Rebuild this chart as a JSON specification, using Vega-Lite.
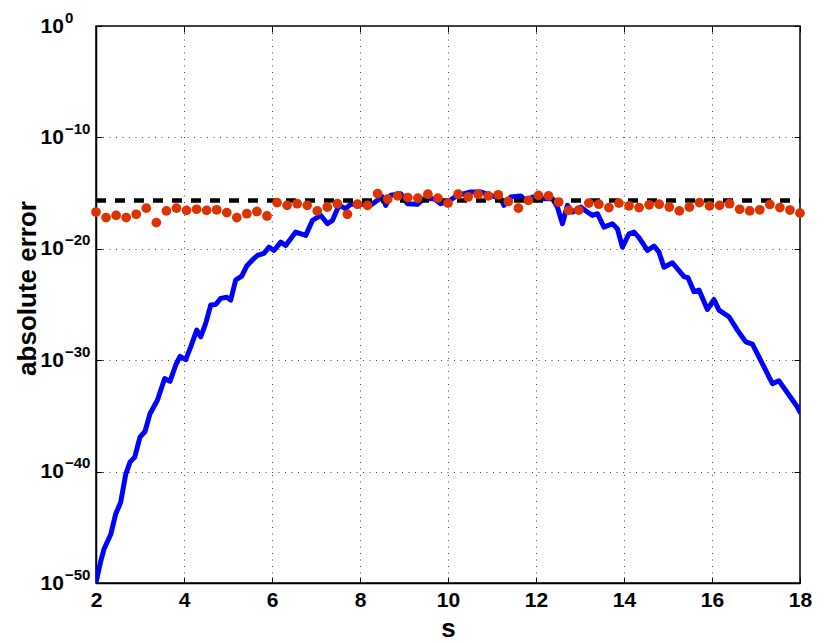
{
  "$schema": "https://vega.github.io/schema/vega-lite/v6.json",
  "width": 704,
  "height": 557,
  "autosize": "none",
  "padding": {"left": 96, "top": 26, "right": 30, "bottom": 60},
  "background": "white",
  "config": {
    "font": "Liberation Sans",
    "view": {"stroke": "black", "strokeWidth": 1.5}
  },
  "datasets": {
    "blue": [
      {"s": 2.0, "err": 1.12e-50}, {"s": 2.107, "err": 8.91e-49}, {"s": 2.182, "err": 1.12e-47}, {"s": 2.334, "err": 2.24e-46},
      {"s": 2.448, "err": 1.58e-44}, {"s": 2.561, "err": 1.78e-43}, {"s": 2.675, "err": 5.62e-41}, {"s": 2.773, "err": 7.08e-40},
      {"s": 2.88, "err": 2.0e-39}, {"s": 3.0, "err": 1.26e-37}, {"s": 3.114, "err": 3.98e-37}, {"s": 3.227, "err": 1.58e-35},
      {"s": 3.395, "err": 2.51e-34}, {"s": 3.561, "err": 2.24e-32}, {"s": 3.682, "err": 1.26e-32}, {"s": 3.811, "err": 3.55e-31},
      {"s": 3.909, "err": 2.24e-30}, {"s": 4.039, "err": 1.12e-30}, {"s": 4.152, "err": 1.58e-29}, {"s": 4.289, "err": 5.01e-28},
      {"s": 4.38, "err": 1.26e-28}, {"s": 4.493, "err": 2.0e-27}, {"s": 4.607, "err": 8.91e-26}, {"s": 4.72, "err": 1.0e-25},
      {"s": 4.834, "err": 3.55e-25}, {"s": 4.97, "err": 4.47e-25}, {"s": 5.061, "err": 2.51e-25}, {"s": 5.175, "err": 1.58e-23},
      {"s": 5.311, "err": 3.55e-23}, {"s": 5.425, "err": 2.82e-22}, {"s": 5.555, "err": 1.0e-21}, {"s": 5.668, "err": 2.51e-21},
      {"s": 5.818, "err": 3.98e-21}, {"s": 5.932, "err": 1.41e-20}, {"s": 6.045, "err": 7.08e-21}, {"s": 6.198, "err": 3.98e-20},
      {"s": 6.311, "err": 2.0e-20}, {"s": 6.539, "err": 3.16e-19}, {"s": 6.766, "err": 1.58e-19}, {"s": 6.918, "err": 3.55e-18},
      {"s": 7.107, "err": 1.0e-17}, {"s": 7.259, "err": 1.78e-18}, {"s": 7.373, "err": 3.55e-18}, {"s": 7.523, "err": 7.94e-17},
      {"s": 7.675, "err": 3.98e-17}, {"s": 7.789, "err": 1.0e-16}, {"s": 8.055, "err": 1.0e-16}, {"s": 8.243, "err": 7.94e-17},
      {"s": 8.395, "err": 2.24e-16}, {"s": 8.509, "err": 4.47e-16}, {"s": 8.584, "err": 7.94e-17}, {"s": 8.698, "err": 6.31e-16},
      {"s": 8.925, "err": 8.91e-16}, {"s": 9.077, "err": 1.12e-16}, {"s": 9.305, "err": 1.0e-16}, {"s": 9.455, "err": 3.16e-16},
      {"s": 9.682, "err": 3.16e-16}, {"s": 9.834, "err": 1.12e-16}, {"s": 9.986, "err": 1.58e-16}, {"s": 10.214, "err": 6.31e-16},
      {"s": 10.516, "err": 1.26e-15}, {"s": 10.743, "err": 1.26e-15}, {"s": 10.97, "err": 6.31e-16}, {"s": 11.198, "err": 3.16e-16},
      {"s": 11.273, "err": 7.94e-17}, {"s": 11.425, "err": 4.47e-16}, {"s": 11.652, "err": 5.62e-16}, {"s": 11.805, "err": 1.58e-16},
      {"s": 11.918, "err": 4.47e-16}, {"s": 12.145, "err": 3.16e-16}, {"s": 12.373, "err": 3.16e-16}, {"s": 12.486, "err": 5.62e-17},
      {"s": 12.6, "err": 1.78e-18}, {"s": 12.714, "err": 7.94e-17}, {"s": 12.827, "err": 2.0e-17}, {"s": 13.016, "err": 5.62e-17},
      {"s": 13.168, "err": 2.0e-17}, {"s": 13.282, "err": 1.0e-17}, {"s": 13.395, "err": 1.41e-17}, {"s": 13.545, "err": 8.91e-19},
      {"s": 13.736, "err": 1.78e-18}, {"s": 13.85, "err": 6.31e-19}, {"s": 13.964, "err": 1.41e-20}, {"s": 14.114, "err": 2.24e-19},
      {"s": 14.227, "err": 3.16e-19}, {"s": 14.341, "err": 1.0e-19}, {"s": 14.532, "err": 7.08e-21}, {"s": 14.682, "err": 1.78e-20},
      {"s": 14.795, "err": 5.01e-21}, {"s": 14.909, "err": 2.24e-22}, {"s": 15.1, "err": 5.62e-22}, {"s": 15.364, "err": 3.16e-23},
      {"s": 15.455, "err": 2.51e-23}, {"s": 15.591, "err": 1.41e-24}, {"s": 15.705, "err": 2.0e-24}, {"s": 15.895, "err": 3.55e-26},
      {"s": 16.045, "err": 2.82e-25}, {"s": 16.159, "err": 3.16e-26}, {"s": 16.386, "err": 7.94e-27}, {"s": 16.577, "err": 5.01e-28},
      {"s": 16.766, "err": 4.47e-29}, {"s": 16.918, "err": 2.82e-29}, {"s": 17.182, "err": 2.51e-31}, {"s": 17.373, "err": 7.94e-33},
      {"s": 17.523, "err": 1.41e-32}, {"s": 17.941, "err": 6.31e-35}, {"s": 18.0, "err": 2.24e-35}
    ],
    "eps": [
      {"s": 2, "err": 2.22e-16}, {"s": 18, "err": 2.22e-16}
    ],
    "red": [
      {"s": 2.0, "err": 2.0e-17}, {"s": 2.2286, "err": 6.31e-18}, {"s": 2.4571, "err": 1.0e-17}, {"s": 2.6857, "err": 6.31e-18},
      {"s": 2.9143, "err": 1.26e-17}, {"s": 3.1429, "err": 4.47e-17}, {"s": 3.3714, "err": 2.24e-18}, {"s": 3.6, "err": 2.51e-17},
      {"s": 3.8286, "err": 4.47e-17}, {"s": 4.0571, "err": 2.82e-17}, {"s": 4.2857, "err": 3.55e-17}, {"s": 4.5143, "err": 2.82e-17},
      {"s": 4.7429, "err": 3.16e-17}, {"s": 4.9714, "err": 1.78e-17}, {"s": 5.2, "err": 6.31e-18}, {"s": 5.4286, "err": 1.41e-17},
      {"s": 5.6571, "err": 2.24e-17}, {"s": 5.8857, "err": 8.91e-18}, {"s": 6.1143, "err": 1.41e-16}, {"s": 6.3429, "err": 7.94e-17},
      {"s": 6.5714, "err": 1.12e-16}, {"s": 6.8, "err": 7.94e-17}, {"s": 7.0286, "err": 2.51e-17}, {"s": 7.2571, "err": 5.62e-17},
      {"s": 7.4857, "err": 1.12e-16}, {"s": 7.7143, "err": 1.26e-17}, {"s": 7.9429, "err": 1.0e-16}, {"s": 8.1714, "err": 7.94e-17},
      {"s": 8.4, "err": 8.91e-16}, {"s": 8.6286, "err": 2.82e-16}, {"s": 8.8571, "err": 5.62e-16}, {"s": 9.0857, "err": 3.98e-16},
      {"s": 9.3143, "err": 3.55e-16}, {"s": 9.5429, "err": 7.94e-16}, {"s": 9.7714, "err": 3.55e-16}, {"s": 10.0, "err": 1.26e-16},
      {"s": 10.2286, "err": 7.94e-16}, {"s": 10.4571, "err": 4.47e-16}, {"s": 10.6857, "err": 7.94e-16}, {"s": 10.9143, "err": 5.62e-16},
      {"s": 11.1429, "err": 7.08e-16}, {"s": 11.3714, "err": 1.78e-16}, {"s": 11.6, "err": 4.47e-17}, {"s": 11.8286, "err": 2.24e-16},
      {"s": 12.0571, "err": 6.31e-16}, {"s": 12.2857, "err": 5.62e-16}, {"s": 12.5143, "err": 1.58e-16}, {"s": 12.7429, "err": 2.82e-17},
      {"s": 12.9714, "err": 3.0e-17}, {"s": 13.2, "err": 1.26e-16}, {"s": 13.4286, "err": 1.0e-16}, {"s": 13.6571, "err": 5.01e-17},
      {"s": 13.8857, "err": 1.26e-16}, {"s": 14.1143, "err": 7.08e-17}, {"s": 14.3429, "err": 5.01e-17}, {"s": 14.5714, "err": 8.91e-17},
      {"s": 14.8, "err": 1.0e-16}, {"s": 15.0286, "err": 5.62e-17}, {"s": 15.2571, "err": 2.51e-17}, {"s": 15.4857, "err": 5.62e-17},
      {"s": 15.7143, "err": 1.41e-16}, {"s": 15.9429, "err": 7.08e-17}, {"s": 16.1714, "err": 7.94e-17}, {"s": 16.4, "err": 1.12e-16},
      {"s": 16.6286, "err": 3.55e-17}, {"s": 16.8571, "err": 2.51e-17}, {"s": 17.0857, "err": 3.16e-17}, {"s": 17.3143, "err": 9.5e-17},
      {"s": 17.5429, "err": 5.01e-17}, {"s": 17.7714, "err": 3.0e-17}, {"s": 18.0, "err": 1.58e-17}
    ]
  },
  "resolve": {"axis": {"x": "independent", "y": "independent"}},
  "layer": [
    {
      "data": {"name": "blue"},
      "mark": {"type": "line", "color": "#0000ff", "strokeWidth": 5, "strokeJoin": "round", "strokeCap": "round", "clip": true},
      "encoding": {
        "x": {
          "field": "s",
          "type": "quantitative",
          "scale": {"domain": [2, 18], "nice": false, "zero": false},
          "axis": {
            "orient": "bottom",
            "values": [2, 4, 6, 8, 10, 12, 14, 16, 18],
            "title": "s",
            "titleFontSize": 26,
            "titleFontWeight": "bold",
            "titleColor": "black",
            "titleBaseline": "alphabetic",
            "titleY": 53,
            "labelFontSize": 21,
            "labelFontWeight": "bold",
            "labelColor": "black",
            "labelPadding": 12,
            "labelFlush": false,
            "tickSize": -6,
            "tickColor": "black",
            "tickWidth": 1,
            "grid": true,
            "gridDash": [1, 5.5],
            "gridColor": "#444444",
            "gridOpacity": 1,
            "domainColor": "black",
            "domainWidth": 1.5
          }
        },
        "y": {
          "field": "err",
          "type": "quantitative",
          "scale": {"type": "log", "domain": [1e-50, 1], "nice": false},
          "axis": {
            "orient": "left",
            "values": [1e-50, 1e-40, 1e-30, 1e-20, 1e-10, 1],
            "labelExpr": "'10'",
            "title": "absolute error",
            "titleFontSize": 26,
            "titleFontWeight": "bold",
            "titleColor": "black",
            "titleAngle": 270,
            "titleBaseline": "alphabetic",
            "titleX": -61,
            "titleY": 262,
            "labelFontSize": 21,
            "labelFontWeight": "bold",
            "labelColor": "black",
            "labelAlign": "left",
            "labelBaseline": "middle",
            "labelPadding": 62,
            "labelFlush": false,
            "labelOverlap": false,
            "tickSize": -6,
            "tickColor": "black",
            "grid": true,
            "gridDash": [1, 5.5],
            "gridColor": "#444444",
            "gridOpacity": 1,
            "domainColor": "black",
            "domainWidth": 1.5
          }
        }
      }
    },
    {
      "data": {"name": "eps"},
      "mark": {"type": "line", "color": "black", "strokeWidth": 4.5, "strokeDash": [10, 9], "clip": true},
      "encoding": {
        "x": {
          "field": "s",
          "type": "quantitative",
          "scale": {"domain": [2, 18], "nice": false, "zero": false},
          "axis": {
            "orient": "top",
            "values": [2, 4, 6, 8, 10, 12, 14, 16, 18],
            "title": null,
            "labels": false,
            "tickSize": -6,
            "tickColor": "black",
            "grid": false,
            "domain": false
          }
        },
        "y": {
          "field": "err",
          "type": "quantitative",
          "scale": {"type": "log", "domain": [1e-50, 1], "nice": false},
          "axis": {
            "orient": "left",
            "values": [1e-50, 1e-40, 1e-30, 1e-20, 1e-10, 1],
            "labelExpr": "['0','−10','−20','−30','−40','−50'][round(-log(datum.value)/LN10/10)]",
            "title": null,
            "labelFontSize": 15,
            "labelFontWeight": "bold",
            "labelColor": "black",
            "labelAlign": "left",
            "labelBaseline": "middle",
            "labelPadding": 37.5,
            "labelOffset": -9,
            "labelFlush": false,
            "labelOverlap": false,
            "tickSize": -6,
            "tickOpacity": 0,
            "grid": false,
            "domain": false
          }
        }
      }
    },
    {
      "data": {"name": "red"},
      "mark": {"type": "point", "shape": "circle", "filled": true, "size": 95, "color": "#dc3300", "opacity": 1},
      "encoding": {
        "x": {
          "field": "s",
          "type": "quantitative",
          "scale": {"domain": [2, 18], "nice": false, "zero": false},
          "axis": null
        },
        "y": {
          "field": "err",
          "type": "quantitative",
          "scale": {"type": "log", "domain": [1e-50, 1], "nice": false},
          "axis": {
            "orient": "right",
            "values": [1e-50, 1e-40, 1e-30, 1e-20, 1e-10, 1],
            "title": null,
            "labels": false,
            "tickSize": -6,
            "tickColor": "black",
            "grid": false,
            "domain": false
          }
        }
      }
    }
  ]
}
